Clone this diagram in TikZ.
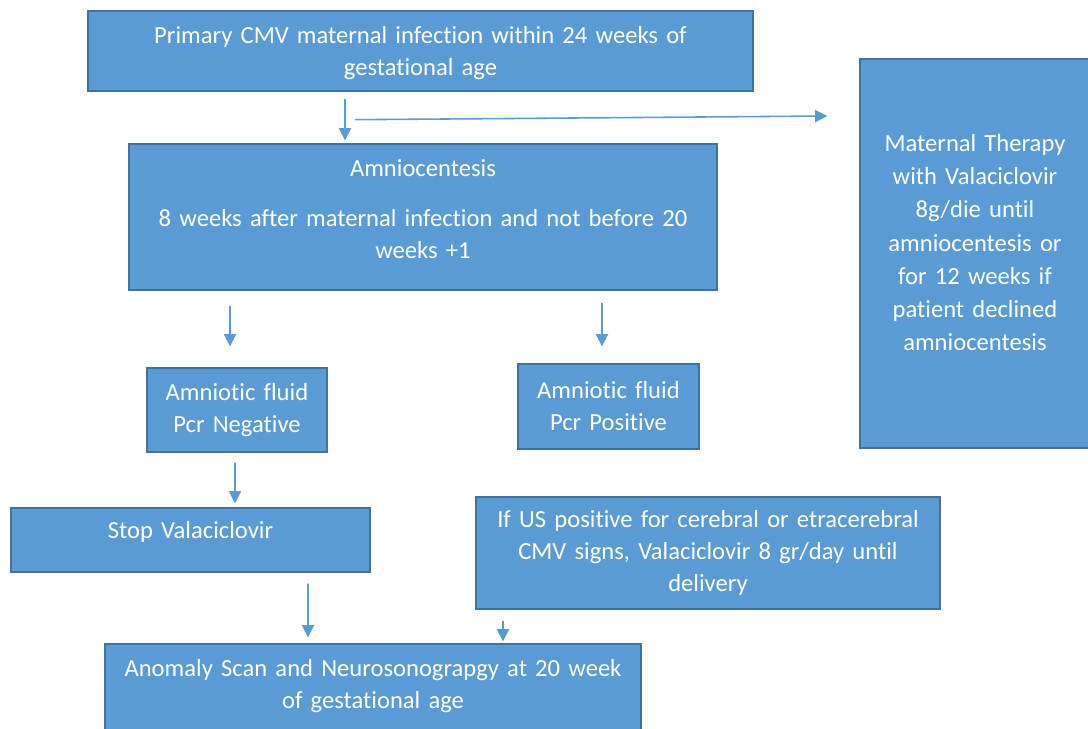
\documentclass[tikz,border=0pt]{standalone}
\usepackage{fontspec}
\setmainfont{Carlito}[Ligatures=NoCommon]
\usetikzlibrary{arrows.meta, positioning}
\definecolor{boxfill}{HTML}{5B9BD5}
\definecolor{boxline}{HTML}{41719C}

\begin{document}
\begin{tikzpicture}[
    x=0.02cm, y=-0.02cm,
    stepbox/.style={rectangle, draw=boxline, line width=0.8pt, fill=boxfill,
                    text=white, align=center, inner sep=0pt,
                    font=\fontsize{14}{18.2}\selectfont},
    flow/.style={boxfill, line width=0.9pt, -{Triangle[width=7pt, length=7pt]}},
]
\useasboundingbox (0,0) rectangle (1088,728);
\clip (0,0) rectangle (1088,728);
% Boxes
\node[stepbox, minimum width=13.3cm, minimum height=1.6cm, text width=13.3cm, text depth=18pt] (infection) at (420.5,51)
    {Primary CMV maternal infection within 24 weeks of\\ gestational age};
\node[stepbox, minimum width=11.76cm, minimum height=2.92cm, text width=11.76cm, text depth=56.3pt] (amnio) at (423,217)
    {Amniocentesis\\[10.8pt] 8 weeks after maternal infection and not before 20\\ weeks +1};
\node[stepbox, minimum width=4.6cm, minimum height=7.78cm, text width=4.6cm, text depth=125.9pt,
      font=\fontsize{14}{18.9}\selectfont] (therapy) at (975,253.5)
    {Maternal Therapy\\ with Valaciclovir\\ 8g/die until\\ amniocentesis or\\ for 12 weeks if\\ patient declined\\ amniocentesis};
\node[stepbox, minimum width=3.6cm, minimum height=1.68cm, text width=3.6cm] (negative) at (237,410)
    {Amniotic fluid\\ Pcr Negative};
\node[stepbox, minimum width=3.62cm, minimum height=1.7cm, text width=3.62cm] (positive) at (608.5,406.5)
    {Amniotic fluid\\ Pcr Positive};
\node[stepbox, minimum width=7.18cm, minimum height=1.28cm, text width=7.18cm, text depth=12pt] (stop) at (190.5,540)
    {Stop Valaciclovir};
\node[stepbox, minimum width=9.28cm, minimum height=2.24cm, text width=9.28cm] (us) at (708,553)
    {If US positive for cerebral or etracerebral\\ CMV signs, Valaciclovir 8 gr/day until\\ delivery};
\node[stepbox, minimum width=10.72cm, minimum height=1.92cm, text width=10.72cm, text depth=27.5pt] (scan) at (373,692)
    {Anomaly Scan and Neurosonograpgy at 20 week\\ of gestational age};
% Arrows
\draw[flow] ([shift={(-75.5,7)}]infection.south) -- ([shift={(-78,-3)}]amnio.north);
\draw[flow] ([shift={(-65.5,28)}]infection.south) -- ([shift={(-32,-137.5)}]therapy.west);
\draw[flow] ([shift={(-193,15)}]amnio.south) -- ([shift={(-7,-21)}]negative.north);
\draw[flow] ([shift={(179,12)}]amnio.south) -- ([shift={(-6.5,-17)}]positive.north);
\draw[flow] ([shift={(-2,10)}]negative.south) -- ([shift={(44.5,-4)}]stop.north);
\draw[flow] ([shift={(117.5,11)}]stop.south) -- ([shift={(-65,-6)}]scan.north);
\draw[flow] ([shift={(-205,11)}]us.south) -- ([shift={(130,-2)}]scan.north);
\end{tikzpicture}
\end{document}
